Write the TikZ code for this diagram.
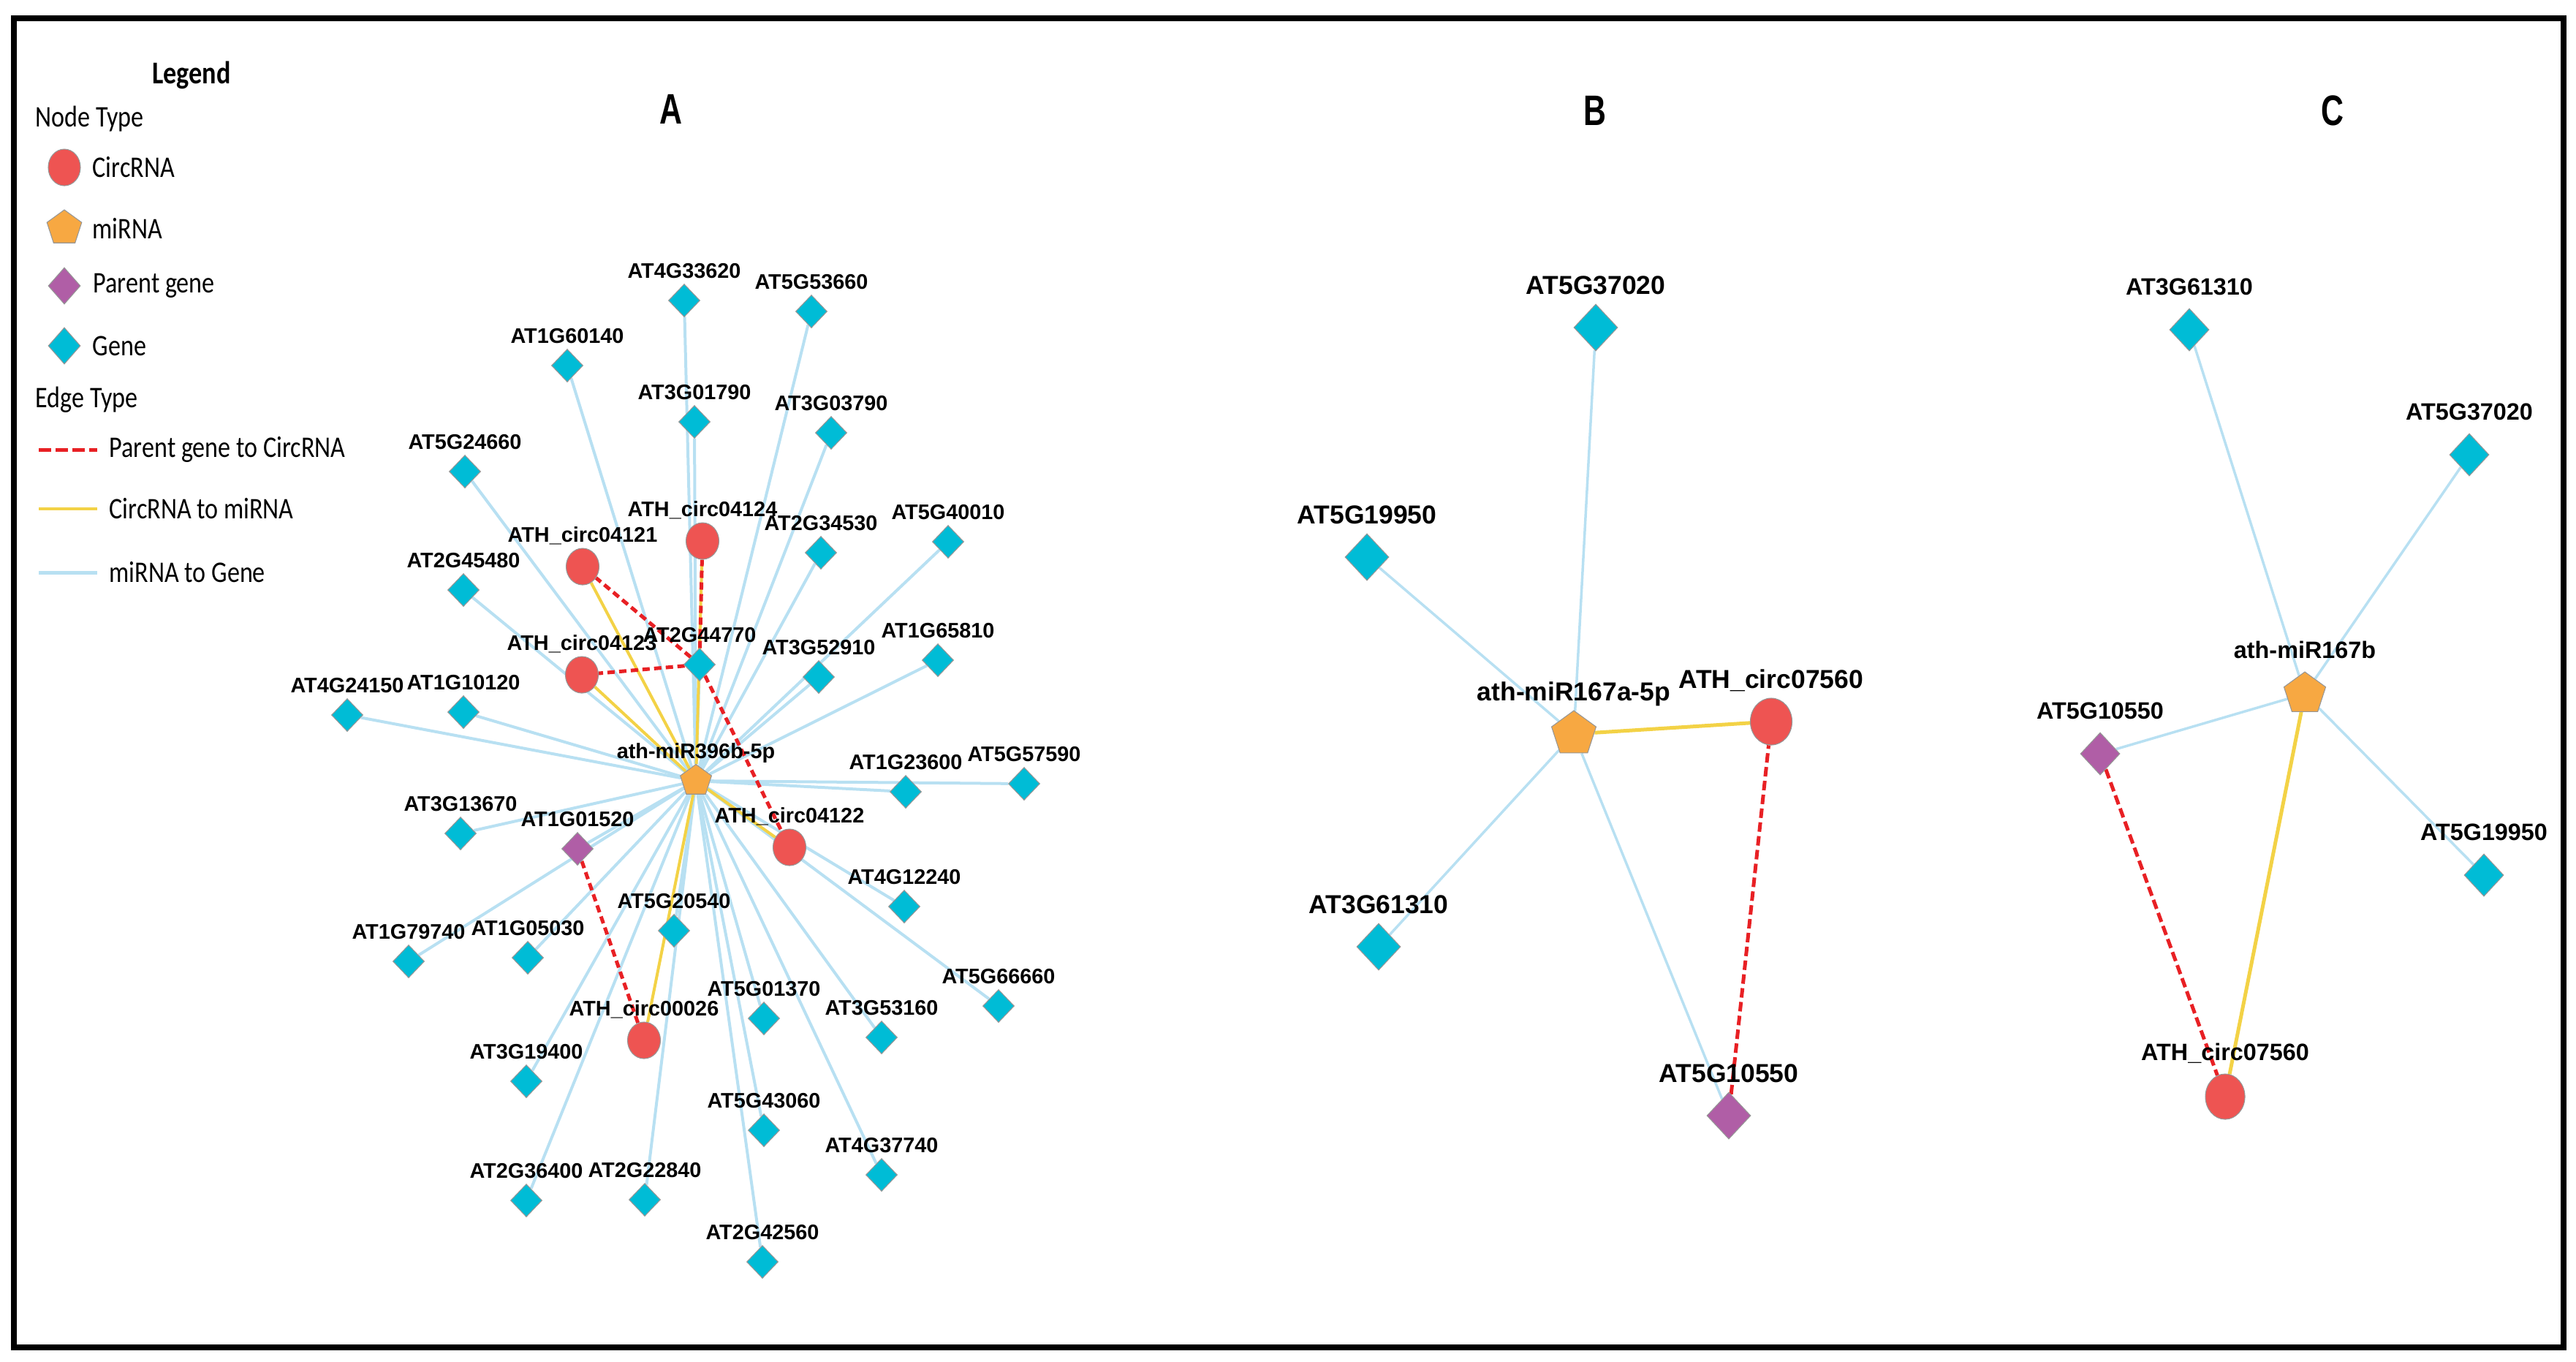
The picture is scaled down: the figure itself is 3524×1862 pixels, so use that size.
\documentclass[tikz,border=0pt]{standalone}
\usepackage{fontspec}
\setmainfont{Liberation Sans}
\newfontfamily\legendfont{Carlito}
\usepackage{tikz}
\usetikzlibrary{shapes.geometric,backgrounds}

\definecolor{genecol}{RGB}{0,188,214}
\definecolor{circcol}{RGB}{238,84,82}
\definecolor{mircol}{RGB}{247,168,66}
\definecolor{parcol}{RGB}{176,94,166}
\definecolor{bluecol}{RGB}{184,224,242}
\definecolor{yelcol}{RGB}{243,210,70}
\definecolor{redcol}{RGB}{232,32,36}
\definecolor{nodeline}{RGB}{150,150,150}

\tikzset{
  gene/.style={diamond,fill=genecol,draw=nodeline,line width=0.3pt,inner sep=0pt,minimum width=0.43cm,minimum height=0.45cm},
  parent/.style={gene,fill=parcol},
  circ/.style={ellipse,fill=circcol,draw=nodeline,line width=0.3pt,inner sep=0pt,minimum width=0.45cm,minimum height=0.5cm},
  mir/.style={regular polygon,regular polygon sides=5,fill=mircol,draw=nodeline,line width=0.3pt,inner sep=0pt,minimum size=0.45cm},
  mtog/.style={draw=bluecol,line width=0.04cm},
  ctom/.style={draw=yelcol,line width=0.04cm},
  ptoc/.style={draw=redcol,line width=0.05cm,dash pattern=on 0.1cm off 0.06cm},
  lbl/.style={inner sep=0pt,text depth=0pt,font=\bfseries\fontsize{8.2}{10}\selectfont},
  legtext/.style={inner sep=0pt,anchor=west,font=\legendfont\fontsize{9.7}{11}\selectfont},
}

\begin{document}
\begin{tikzpicture}[x=0.01cm,y=-0.01cm,every label/.style={lbl},label distance=0.07cm]
\useasboundingbox (0,0) rectangle (3524,1862);
\draw[line width=0.08cm] (19,25) rectangle (3507,1843);

% legend
\node (legTitle) at (262,103) [inner sep=0pt] {\scalebox{1}[1.2]{\legendfont\bfseries\fontsize{10.3}{12}\selectfont Legend}};
\node (nodeType) at (48,163) [legtext] {\scalebox{1}[1.2]{Node Type}};
\node (lgCirc) at (88,229) [circ,minimum width=0.44cm,minimum height=0.5cm] {};
\node (lgMir) at (88,312) [mir,minimum size=0.5cm] {};
\node (lgPar) at (88,391) [parent,minimum width=0.44cm,minimum height=0.5cm] {};
\node (lgGene) at (88,473) [gene,minimum width=0.44cm,minimum height=0.5cm] {};
\node (lgCircT) at (126,229) [legtext] {\scalebox{1}[1.2]{CircRNA}};
\node (lgMirT) at (126,312) [legtext] {\scalebox{1}[1.2]{miRNA}};
\node (lgParT) at (127,391) [legtext] {\scalebox{1}[1.2]{Parent gene}};
\node (lgGeneT) at (126,473) [legtext] {\scalebox{1}[1.2]{Gene}};
\node (edgeType) at (48,547) [legtext] {\scalebox{1}[1.2]{Edge Type}};
\coordinate (lgR1) at (53,615);
\coordinate (lgR2) at (133,615);
\coordinate (lgY1) at (53,696);
\coordinate (lgY2) at (133,696);
\coordinate (lgB1) at (53,783);
\coordinate (lgB2) at (133,783);
\draw[ptoc,dash pattern=on 0.17cm off 0.06cm] (lgR1) -- (lgR2);
\draw[ctom] (lgY1) -- (lgY2);
\draw[mtog,line width=0.05cm] (lgB1) -- (lgB2);
\node (lgRT) at (149,615) [legtext] {\scalebox{1}[1.2]{Parent gene to CircRNA}};
\node (lgYT) at (149,696) [legtext] {\scalebox{1}[1.2]{CircRNA to miRNA}};
\node (lgBT) at (149,783) [legtext] {\scalebox{1}[1.2]{miRNA to Gene}};

% panel titles
\node (titleA) at (918,149) {\scalebox{1}[1.36]{\bfseries\fontsize{12.2}{14}\selectfont A}};
\node (titleB) at (2182,151) {\scalebox{1}[1.36]{\bfseries\fontsize{12.2}{14}\selectfont B}};
\node (titleC) at (3191,151) {\scalebox{1}[1.36]{\bfseries\fontsize{12.2}{14}\selectfont C}};

% panel A
\node (mirA) at (952,1068) [mir,label=above:ath-miR396b-5p] {};
\node (at4g33620) at (936,411) [gene,label=above:AT4G33620] {};
\node (at5g53660) at (1110,426) [gene,label=above:AT5G53660] {};
\node (at1g60140) at (776,500) [gene,label=above:AT1G60140] {};
\node (at3g01790) at (950,577) [gene,label=above:AT3G01790] {};
\node (at3g03790) at (1137,592) [gene,label=above:AT3G03790] {};
\node (at5g24660) at (636,645) [gene,label=above:AT5G24660] {};
\node (at2g34530) at (1123,756) [gene,label=above:AT2G34530] {};
\node (at5g40010) at (1297,741) [gene,label=above:AT5G40010] {};
\node (at2g45480) at (634,807) [gene,label=above:AT2G45480] {};
\node (at2g44770) at (957,909) [gene,label=above:AT2G44770] {};
\node (at3g52910) at (1120,926) [gene,label=above:AT3G52910] {};
\node (at1g65810) at (1283,903) [gene,label=above:AT1G65810] {};
\node (at4g24150) at (475,978) [gene,label=above:AT4G24150] {};
\node (at1g10120) at (634,974) [gene,label=above:AT1G10120] {};
\node (at1g23600) at (1239,1083) [gene,label=above:AT1G23600] {};
\node (at5g57590) at (1401,1072) [gene,label=above:AT5G57590] {};
\node (at3g13670) at (630,1140) [gene,label=above:AT3G13670] {};
\node (at4g12240) at (1237,1240) [gene,label=above:AT4G12240] {};
\node (at5g20540) at (922,1273) [gene,label=above:AT5G20540] {};
\node (at1g79740) at (559,1315) [gene,label=above:AT1G79740] {};
\node (at1g05030) at (722,1310) [gene,label=above:AT1G05030] {};
\node (at5g66660) at (1366,1376) [gene,label=above:AT5G66660] {};
\node (at5g01370) at (1045,1393) [gene,label=above:AT5G01370] {};
\node (at3g53160) at (1206,1419) [gene,label=above:AT3G53160] {};
\node (at3g19400) at (720,1479) [gene,label=above:AT3G19400] {};
\node (at5g43060) at (1045,1546) [gene,label=above:AT5G43060] {};
\node (at4g37740) at (1206,1607) [gene,label=above:AT4G37740] {};
\node (at2g36400) at (720,1642) [gene,label=above:AT2G36400] {};
\node (at2g22840) at (882,1641) [gene,label=above:AT2G22840] {};
\node (at2g42560) at (1043,1726) [gene,label=above:AT2G42560] {};
\node (at1g01520) at (790,1161) [parent,label=above:AT1G01520] {};
\node (circ04124) at (961,740) [circ,label=above:ATH\_circ04124] {};
\node (circ04121) at (797,775) [circ,label=above:ATH\_circ04121] {};
\node (circ04123) at (796,923) [circ,label=above:ATH\_circ04123] {};
\node (circ04122) at (1080,1159) [circ,label=above:ATH\_circ04122] {};
\node (circ00026) at (881,1423) [circ,label=above:ATH\_circ00026] {};

% panel B
\begin{scope}[gene/.append style={minimum width=0.6cm,minimum height=0.64cm},
  circ/.append style={minimum width=0.57cm,minimum height=0.64cm},
  mir/.append style={minimum size=0.64cm},
  every label/.append style={font=\bfseries\fontsize{10.1}{12}\selectfont},
  label distance=0.12cm]
\node (mirB) at (2153,1004) [mir,label=above:ath-miR167a-5p] {};
\node (bat5g37020) at (2183,448) [gene,label=above:AT5G37020] {};
\node (bat5g19950) at (1870,762) [gene,label=above:AT5G19950] {};
\node (bat3g61310) at (1886,1295) [gene,label=above:AT3G61310] {};
\node (bat5g10550) at (2365,1526) [parent,label=above:AT5G10550] {};
\node (bcirc07560) at (2423,987) [circ,label=above:ATH\_circ07560] {};
\end{scope}

% panel C
\begin{scope}[gene/.append style={minimum width=0.54cm,minimum height=0.58cm},
  circ/.append style={minimum width=0.54cm,minimum height=0.62cm},
  mir/.append style={minimum size=0.6cm},
  every label/.append style={font=\bfseries\fontsize{9.2}{11}\selectfont},
  label distance=0.17cm]
\node (mirC) at (3153,949) [mir,label=above:ath-miR167b] {};
\node (cat3g61310) at (2995,451) [gene,label=above:AT3G61310] {};
\node (cat5g37020) at (3378,622) [gene,label=above:AT5G37020] {};
\node (cat5g19950) at (3398,1197) [gene,label=above:AT5G19950] {};
\node (cat5g10550) at (2873,1031) [parent,label=above:AT5G10550] {};
\node (ccirc07560) at (3044,1500) [circ,label=above:ATH\_circ07560] {};
\end{scope}

\begin{scope}[on background layer]
% A: miRNA to gene
\draw[mtog] (mirA) -- (at4g33620);
\draw[mtog] (mirA) -- (at5g53660);
\draw[mtog] (mirA) -- (at1g60140);
\draw[mtog] (mirA) -- (at3g01790);
\draw[mtog] (mirA) -- (at3g03790);
\draw[mtog] (mirA) -- (at5g24660);
\draw[mtog] (mirA) -- (at2g34530);
\draw[mtog] (mirA) -- (at5g40010);
\draw[mtog] (mirA) -- (at2g45480);
\draw[mtog] (mirA) -- (at2g44770);
\draw[mtog] (mirA) -- (at3g52910);
\draw[mtog] (mirA) -- (at1g65810);
\draw[mtog] (mirA) -- (at4g24150);
\draw[mtog] (mirA) -- (at1g10120);
\draw[mtog] (mirA) -- (at1g23600);
\draw[mtog] (mirA) -- (at5g57590);
\draw[mtog] (mirA) -- (at3g13670);
\draw[mtog] (mirA) -- (at4g12240);
\draw[mtog] (mirA) -- (at5g20540);
\draw[mtog] (mirA) -- (at1g79740);
\draw[mtog] (mirA) -- (at1g05030);
\draw[mtog] (mirA) -- (at5g66660);
\draw[mtog] (mirA) -- (at5g01370);
\draw[mtog] (mirA) -- (at3g53160);
\draw[mtog] (mirA) -- (at3g19400);
\draw[mtog] (mirA) -- (at5g43060);
\draw[mtog] (mirA) -- (at4g37740);
\draw[mtog] (mirA) -- (at2g36400);
\draw[mtog] (mirA) -- (at2g22840);
\draw[mtog] (mirA) -- (at2g42560);
\draw[mtog] (mirA) -- (at1g01520);
% A: circRNA to miRNA
\draw[ctom] (circ04124) -- (mirA);
\draw[ctom] (circ04121) -- (mirA);
\draw[ctom] (circ04123) -- (mirA);
\draw[ctom] (circ04122) -- (mirA);
\draw[ctom] (circ00026) -- (mirA);
% A: parent gene to circRNA
\draw[ptoc] (at2g44770) -- (circ04121);
\draw[ptoc] (at2g44770) -- (circ04123);
\draw[ptoc] (at2g44770) -- (circ04124);
\draw[ptoc] (at2g44770) -- (circ04122);
\draw[ptoc] (at1g01520) -- (circ00026);
% B
\draw[mtog,line width=0.035cm] (mirB) -- (bat5g37020);
\draw[mtog,line width=0.035cm] (mirB) -- (bat5g19950);
\draw[mtog,line width=0.035cm] (mirB) -- (bat3g61310);
\draw[mtog,line width=0.035cm] (mirB) -- (bat5g10550);
\draw[ctom,line width=0.05cm] (bcirc07560) -- (mirB);
\draw[ptoc,dash pattern=on 0.13cm off 0.06cm] (bat5g10550) -- (bcirc07560);
% C
\draw[mtog,line width=0.035cm] (mirC) -- (cat3g61310);
\draw[mtog,line width=0.035cm] (mirC) -- (cat5g37020);
\draw[mtog,line width=0.035cm] (mirC) -- (cat5g19950);
\draw[mtog,line width=0.035cm] (mirC) -- (cat5g10550);
\draw[ctom,line width=0.05cm] (ccirc07560) -- (mirC);
\draw[ptoc,dash pattern=on 0.13cm off 0.06cm] (cat5g10550) -- (ccirc07560);
\end{scope}
\end{tikzpicture}
\end{document}
